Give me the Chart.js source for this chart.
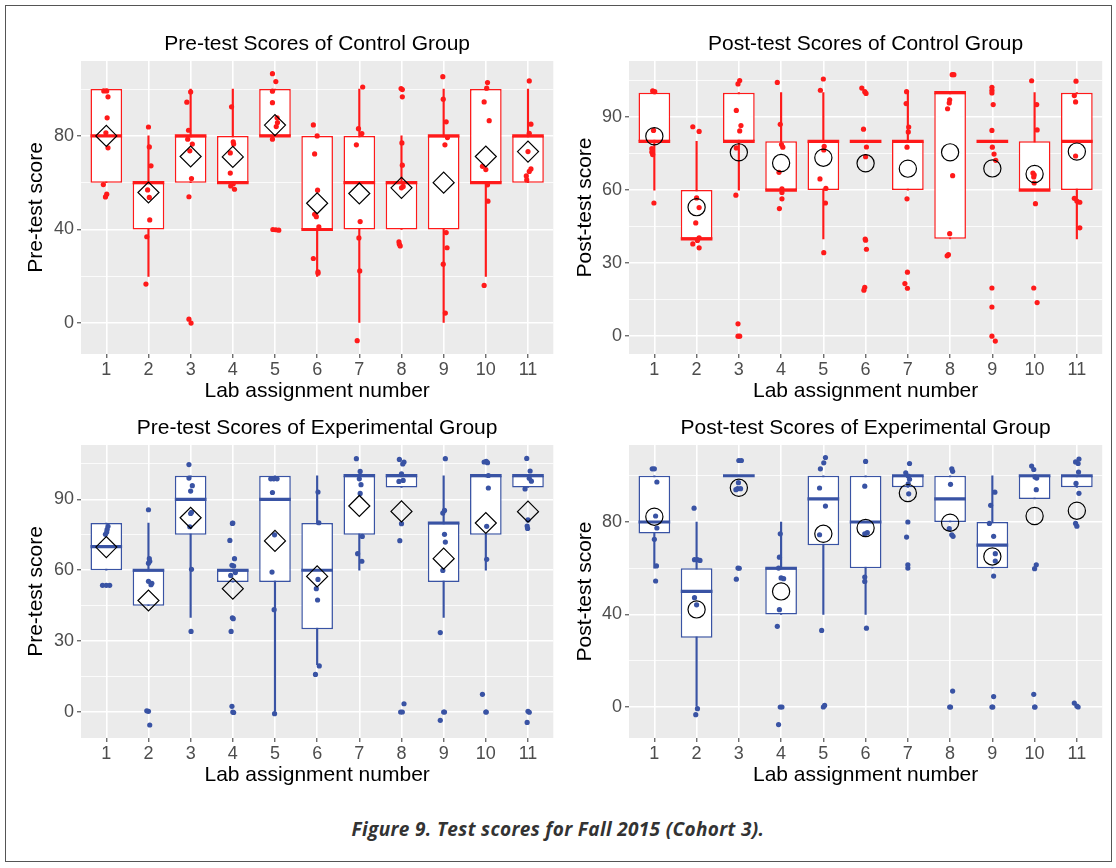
<!DOCTYPE html>
<html>
<head>
<meta charset="utf-8">
<script src="https://cdn.jsdelivr.net/npm/chart.js@4.4.1/dist/chart.umd.min.js"></script>
<style>
  body { margin: 0; background: #fff; width: 1116px; height: 868px; position: relative; overflow: hidden; }
  .frame { position: absolute; left: 5px; top: 5px; width: 1107px; height: 857px; border: 1px solid #555; box-sizing: border-box; }
  canvas { position: absolute; }
  #caption { position: absolute; left: 0; top: 816px; width: 1116px; text-align: center;
             font: italic 700 19px "Open Sans", sans-serif; letter-spacing: 0.35px; color: #333; }
</style>
</head>
<body>
<div class="frame"></div>
<canvas id="preCtrl" width="555" height="382" style="left:10px;top:24px"></canvas>
<canvas id="postCtrl" width="547" height="382" style="left:565px;top:24px"></canvas>
<canvas id="preExp" width="555" height="382" style="left:10px;top:408px"></canvas>
<canvas id="postExp" width="547" height="382" style="left:565px;top:408px"></canvas>
<div id="caption">Figure 9. Test scores for Fall 2015 (Cohort 3).</div>

<script>
const labs = [1, 2, 3, 4, 5, 6, 7, 8, 9, 10, 11];
const RED = '#ff1a1a';
const BLUE = '#3953a4';

// ---- Pre-test, control group ----
const preCtrlQ1   = [60, 40, 60, 60, 80, 40, 40, 40, 40, 60, 60];
const preCtrlMed  = [80, 60, 80, 60, 80, 40, 60, 60, 80, 60, 80];
const preCtrlQ3   = [100, 60, 80, 80, 100, 80, 80, 60, 80, 100, 80];
const preCtrlLo   = [60, 20, 60, 60, 80, 20, 0, 40, 0, 20, 60];
const preCtrlHi   = [100, 80, 100, 100, 100, 80, 100, 80, 100, 100, 100];
const preCtrlMean = [80, 55.8, 71.2, 71, 84.6, 51.2, 55.4, 57.8, 60, 71.2, 73.3];
const preCtrlPts = [
  [99.2, 99.2, 96.7, 87.7, 81.3, 74.9, 59.2, 55.1, 53.9],
  [83.8, 75.3, 67.2, 56.9, 53.7, 44.1, 36.9, 16.7],
  [98.8, 94.4, 82.4, 78.6, 76.5, 73.6, 61.8, 54, 1.7, 0],
  [92.4, 77.4, 76.5, 72.7, 64.1, 59.5, 58.6, 57.2],
  [106.6, 103.2, 99.1, 94.2, 87.7, 85.7, 84, 78.6, 40, 39.9, 39.7],
  [84.7, 80, 72.3, 56.8, 46.5, 45.5, 41.1, 27.6, 21.9, 21.3],
  [100.9, 83.1, 81, 76.2, 43.4, 36.4, 22.3, -7.5],
  [100.2, 99.8, 96.7, 77, 67.5, 58.4, 57.8, 34.7, 33.7, 33],
  [105.3, 95.7, 86, 79.3, 76.2, 38.7, 32.2, 25.2, 4.3],
  [102.8, 100.4, 94.5, 86.5, 67, 65.6, 59.1, 52.1, 16.1],
  [103.5, 85, 81.1, 73.3, 65.9, 64.8, 62.9, 61.2]
];
const preCtrlJit = [
  [-0.06, 0.01, 0.04, 0.02, -0.01, 0.04, -0.07, 0.01, -0.02],
  [0, 0.02, 0.06, -0.02, 0.02, 0.03, -0.04, -0.06],
  [0, -0.09, -0.05, -0.07, 0.04, -0.02, 0.02, -0.04, -0.04, 0.01],
  [-0.03, 0.01, 0.02, -0.06, -0.06, 0.01, -0.05, 0.04],
  [-0.06, 0.02, -0.06, -0.06, 0.05, 0.06, 0.03, -0.06, -0.05, 0.02, 0.09],
  [-0.09, 0, -0.06, 0.01, -0.06, -0.02, 0.04, -0.09, 0.02, 0.02],
  [0.08, -0.02, 0.06, -0.07, 0.02, -0.01, 0.01, -0.05],
  [-0.01, 0.02, 0.02, 0.01, 0.02, 0.04, 0, -0.06, -0.05, -0.03],
  [-0.02, -0.01, 0.06, 0.09, 0.03, 0.06, 0.08, -0.01, 0.04],
  [0.04, 0.02, -0.04, 0.08, -0.08, 0, 0.04, 0.05, -0.04],
  [0.03, 0.07, 0.03, 0, 0.07, 0.03, -0.04, -0.03]
];

// ---- Post-test, control group ----
const postCtrlQ1   = [80, 40, 80, 60, 60, 80, 60, 40, 80, 60, 60];
const postCtrlMed  = [80, 40, 80, 60, 80, 80, 80, 100, 80, 60, 80];
const postCtrlQ3   = [100, 60, 100, 80, 80, 80, 80, 100, 80, 80, 100];
const postCtrlLo   = [60, 40, 60, 60, 40, 80, 60, 40, 80, 60, 40];
const postCtrlHi   = [100, 80, 100, 100, 100, 80, 100, 100, 80, 100, 100];
const postCtrlMean = [82.1, 53, 75.5, 71.1, 73.3, 71, 68.8, 75.5, 68.9, 66.6, 75.8];
const postCtrlPts = [
  [100.7, 100.4, 84.5, 77, 75.6, 74.6, 54.7],
  [86, 84.1, 56.8, 52.8, 46.5, 40.4, 39.3, 37.9, 36.3],
  [105, 103.6, 92.7, 86.5, 84.3, 77.3, 57.9, 5.1, 0, 0],
  [104.2, 87, 78.7, 77.6, 67.3, 60.5, 59, 56.4, 52.4],
  [105.6, 101, 78, 76.5, 64.6, 60.7, 54.7, 34.3],
  [101.9, 100.4, 99.7, 85, 77.7, 73.7, 39.9, 39.4, 35.7, 20.1, 18.9],
  [100.4, 95.5, 85.9, 83.9, 77.6, 56.4, 26.3, 21.6, 19.7],
  [107.4, 107.4, 97.1, 95.8, 93.4, 65.9, 42.1, 33.5, 33],
  [102.2, 101, 99.9, 95.1, 84.5, 77.6, 74.8, 72.2, 19.8, 12, 0, -2],
  [104.9, 95.1, 84.7, 67, 66.3, 65.4, 62.9, 54.4, 19.8, 13.8],
  [104.7, 98.8, 96.2, 74, 56.6, 55.5, 55, 44.5]
];
const postCtrlJit = [
  [-0.04, 0.01, -0.02, -0.06, -0.06, -0.04, -0.01],
  [-0.09, 0.06, 0, 0.06, -0.02, 0.06, 0.02, -0.09, 0.06],
  [0.02, -0.02, -0.06, 0.05, 0.02, -0.06, -0.07, -0.02, -0.02, 0.02],
  [-0.09, -0.02, 0.01, 0.04, -0.05, 0.02, 0.02, 0.02, -0.04],
  [0, -0.07, 0.02, 0.01, -0.08, 0.06, 0.05, 0.01],
  [-0.09, -0.02, 0.01, -0.05, 0.02, 0, -0.01, 0, 0.02, -0.02, -0.04],
  [-0.03, -0.04, 0.02, 0.01, -0.02, -0.02, -0.01, -0.07, -0.01],
  [0.05, 0.09, -0.01, -0.02, -0.06, 0.06, -0.01, -0.04, -0.07],
  [-0.01, -0.01, -0.01, 0.02, -0.01, 0, 0.04, 0.08, -0.01, -0.01, -0.01, 0.07],
  [-0.07, 0.05, 0.06, -0.04, -0.01, -0.02, -0.01, 0.02, -0.02, 0.06],
  [-0.02, -0.06, -0.03, -0.03, -0.06, 0, 0.07, 0.07]
];

// ---- Pre-test, experimental group ----
const preExpQ1   = [60, 45, 75, 55, 55, 35, 75, 95, 55, 75, 95];
const preExpMed  = [70, 60, 90, 60, 90, 60, 100, 100, 80, 100, 100];
const preExpQ3   = [80, 60, 100, 60, 100, 80, 100, 100, 80, 100, 100];
const preExpLo   = [60, 45, 40, 55, 0, 20, 60, 95, 40, 60, 95];
const preExpHi   = [80, 80, 100, 60, 100, 100, 100, 100, 100, 100, 100];
const preExpMean = [69.8, 47.2, 82.2, 52.2, 72.4, 57.4, 87.2, 84.9, 64.9, 80, 84.8];
const preExpPts = [
  [78.6, 77.3, 76.2, 75.2, 53.6, 53.6, 53.6],
  [85.6, 64.9, 63.8, 63, 55.3, 53.9, 54.5, 0.3, 0.5, -5.5],
  [104.7, 99, 95.8, 93.5, 84.5, 84, 78.4, 60.4, 34.1],
  [80, 79.8, 72.6, 64.9, 62.1, 61.8, 59, 57.8, 39.9, 39.5, 34.1, 2.4, 0, -0.2],
  [98.7, 98.7, 98.7, 92.9, 75, 59.2, 43.3, -0.7],
  [93.1, 80.1, 56.1, 52.2, 47.4, 19.5, 15.9],
  [107.2, 101.8, 98.7, 96.2, 92.5, 74.3, 67, 63.8],
  [106.9, 105.8, 105, 100.8, 97.6, 98, 79.7, 72.5, 3.5, 0, 0],
  [107.2, 85.3, 84.2, 75.2, 71.9, 59.9, 33.6, 0, 0, -3.5],
  [105.8, 105.5, 106.1, 100.1, 94.8, 78.6, 64.6, 7.5, 0, 0],
  [107.3, 102, 98.9, 97.7, 94.4, 81.3, 78.7, 77.7, 0.3, -0.1, -4.4]
];
const preExpJit = [
  [0.04, 0.02, 0.01, -0.02, -0.09, 0, 0.08],
  [0, 0.02, 0.03, 0, 0, 0.06, 0.08, 0, -0.04, 0.03],
  [-0.04, -0.04, 0.04, 0, 0.02, 0, -0.02, 0.02, 0.01],
  [0, -0.01, -0.07, 0.04, -0.02, 0.02, 0.06, -0.05, -0.01, 0.01, -0.04, -0.02, 0, 0.02],
  [-0.1, -0.03, 0.05, -0.06, -0.01, -0.07, -0.02, -0.01],
  [0.02, 0.04, 0.02, -0.02, 0.01, 0.05, -0.04],
  [-0.07, 0.02, 0, 0.04, 0.02, 0.07, -0.04, 0.06],
  [-0.05, 0.06, 0.03, 0, -0.06, 0.04, 0, -0.04, 0.06, -0.02, 0.02],
  [0.04, 0.02, -0.02, 0.02, 0.04, -0.02, -0.08, 0, 0.02, -0.08],
  [-0.04, 0.04, 0.01, 0.06, 0.06, 0.02, 0.02, -0.08, 0, 0.01],
  [-0.03, 0.05, 0.03, 0.08, -0.07, 0, -0.02, -0.01, 0, 0.03, -0.02]
];

// ---- Post-test, experimental group ----
const postExpQ1   = [75, 30, 100, 40, 70, 60, 95, 80, 60, 90, 95];
const postExpMed  = [80, 50, 100, 60, 90, 80, 100, 90, 70, 100, 100];
const postExpQ3   = [100, 60, 100, 60, 100, 100, 100, 100, 80, 100, 100];
const postExpLo   = [60, 0, 100, 40, 40, 40, 95, 80, 60, 90, 95];
const postExpHi   = [100, 80, 100, 80, 100, 100, 100, 100, 100, 100, 100];
const postExpMean = [82.3, 42.2, 94.8, 50, 74.9, 77.4, 92.5, 79.7, 65.1, 82.6, 84.9];
const postExpPts = [
  [103, 103, 97.3, 82.6, 77.4, 72.5, 61, 54.5],
  [86, 63.7, 63.7, 63.4, 47.3, 44.2, -0.7, -3.3],
  [106.6, 106.6, 97, 94.4, 94, 94.4, 60.1, 60, 55.3],
  [74.9, 64.8, 60.1, 55.8, 55.5, 42.1, 34.9, 0, 0, -7.6],
  [107.9, 105.6, 103, 94.7, 86.9, 74.5, 33.1, 0, 0.7],
  [106.2, 95.5, 75.4, 74.9, 56.2, 54.3, 34.1],
  [105.3, 101.3, 99.9, 98.5, 96.5, 92.2, 80, 73.5, 61.5, 60.1],
  [103, 101.9, 96.3, 77.1, 74.5, 73.8, 6.9, 0, 0],
  [92.9, 87.2, 79.4, 73.8, 66.3, 63.1, 56.6, 4.5, 0, 0],
  [104.2, 102.7, 99, 99.5, 94, 61.5, 59.8, 5.5, 0, 0],
  [107.2, 106, 105.3, 101.6, 96.7, 92.4, 79.4, 78.2, 1.7, 0.4, 0]
];
const postExpJit = [
  [-0.05, 0, 0.06, 0.03, 0.06, 0, 0.05, 0.03],
  [-0.06, -0.05, 0.02, 0.08, -0.05, 0, 0.02, -0.02],
  [0, 0.06, -0.01, -0.03, -0.07, 0.04, -0.02, 0.01, -0.06],
  [-0.02, -0.04, -0.06, 0, 0.06, -0.04, -0.09, -0.02, 0.02, -0.06],
  [0.05, 0.01, -0.07, -0.09, 0.05, -0.09, -0.04, 0, 0.03],
  [0, -0.02, 0.04, -0.02, -0.02, -0.02, 0.02],
  [0.04, -0.05, 0.01, 0.04, 0.01, 0.02, 0, -0.03, 0, 0],
  [0.04, 0.06, 0.01, -0.02, 0.04, 0.07, 0.06, -0.01, 0.01],
  [0.06, -0.04, -0.07, 0.03, 0.07, 0.07, 0.03, 0.03, -0.01, 0.01],
  [-0.07, -0.02, 0.05, 0.01, 0.04, 0.04, 0, -0.02, 0, 0.01],
  [0.05, -0.03, 0.03, 0.04, -0.02, 0.05, -0.03, 0, -0.06, 0, 0.03]
];

// y axis ranges and tick values
const yRangePreCtrl  = [-13.2, 112];
const yRangePostCtrl = [-7.3, 113];
const yRangePreExp   = [-11, 113];
const yRangePostExp  = [-13.4, 113.3];
const ticks40 = [0, 40, 80];
const minor40 = [20, 60, 100];
const ticks30 = [0, 30, 60, 90];
const minor30 = [15, 45, 75, 105];

const BOX_W = 0.75;

Chart.defaults.font.family = '"Liberation Sans", Arial, sans-serif';
Chart.defaults.color = '#4d4d4d';

const panelBg = {
  id: 'panelBg',
  beforeDraw(chart) {
    const { ctx, chartArea: a } = chart;
    ctx.save();
    ctx.fillStyle = '#ebebeb';
    ctx.fillRect(a.left, a.top, a.width, a.height);
    ctx.restore();
  }
};

function makeTicks(list) {
  return list.map(v => ({ value: v }));
}

function halfBox(c) {
  const s = c.chart.scales.x;
  return s.getPixelForValue(1 + BOX_W / 2) - s.getPixelForValue(1);
}

function buildChart(id, p) {
  const pts = [];
  p.pts.forEach((arr, i) => arr.forEach((v, j) => pts.push({ x: labs[i] + p.jit[i][j], y: v })));
  const mainTicks = p.major.concat(p.minor).sort((a, b) => a - b);

  return new Chart(document.getElementById(id), {
    type: 'scatter',
    data: {
      datasets: [
        { type: 'bar', order: 5, grouped: false, barThickness: 1.5,
          data: labs.map((l, i) => ({ x: l, y: [p.lo[i], p.hi[i]] })),
          backgroundColor: p.color, borderWidth: 0 },
        { type: 'bar', order: 4, grouped: false, categoryPercentage: 1, barPercentage: BOX_W,
          data: labs.map((l, i) => ({ x: l, y: [p.q1[i], p.q3[i]] })),
          backgroundColor: '#ffffff', borderColor: p.color, borderWidth: 1.5, borderSkipped: false },
        { order: 3, data: labs.map((l, i) => ({ x: l, y: p.med[i] })),
          pointStyle: 'line', pointRadius: halfBox, pointBorderWidth: 3.2,
          pointBorderColor: p.color, pointBackgroundColor: p.color },
        { order: 2, data: pts, pointRadius: 2.6, pointBorderWidth: 0,
          pointBackgroundColor: p.color, pointBorderColor: p.color },
        { order: 1, data: labs.map((l, i) => ({ x: l, y: p.mean[i] })),
          pointStyle: p.meanStyle, pointRadius: p.meanStyle === 'rectRot' ? 10.5 : 8.6,
          pointBorderWidth: 1.2, pointBorderColor: '#000', pointBackgroundColor: 'rgba(0,0,0,0)' }
      ]
    },
    options: {
      responsive: false,
      animation: false,
      events: [],
      layout: { padding: { left: 0, right: p.padRight, top: 0, bottom: 0 } },
      plugins: {
        legend: { display: false },
        tooltip: { enabled: false },
        title: { display: true, text: p.title, fullSize: false, color: '#000',
                 font: { size: 21, weight: 'normal' }, padding: { top: 7.4, bottom: 4.4 } }
      },
      scales: {
        x: {
          type: 'linear', min: 0.4, max: 11.6, offset: false,
          afterBuildTicks: s => { s.ticks = makeTicks(labs); },
          afterFit: s => { s.height = 52; },
          border: { display: false },
          grid: { offset: false, color: '#ffffff', lineWidth: 1.6, tickLength: 4, tickWidth: 1,
                  tickColor: '#333333' },
          ticks: { autoSkip: false, maxRotation: 0, padding: 1, color: '#4d4d4d', font: { size: 18 },
                   callback: v => String(v) },
          title: { display: true, text: 'Lab assignment number', color: '#000',
                   font: { size: 21 }, padding: { top: 0, bottom: 2.4 } }
        },
        y: {
          min: p.range[0], max: p.range[1],
          afterBuildTicks: s => { s.ticks = makeTicks(mainTicks); },
          afterFit: s => { s.width = p.axisW; },
          border: { display: false },
          grid: {
            color: '#ffffff',
            lineWidth: c => (p.major.includes(c.tick.value) ? 1.6 : 0.8),
            tickLength: 4,
            tickWidth: 1,
            tickColor: c => (p.major.includes(c.tick.value) ? '#333333' : 'rgba(0,0,0,0)')
          },
          ticks: { autoSkip: false, padding: 3, color: '#4d4d4d', font: { size: 18 },
                   callback: v => (p.major.includes(v) ? String(v) : '') },
          title: { display: true, text: p.yTitle, color: '#000', font: { size: 21 },
                   padding: { top: p.yTitlePad, bottom: 0 } }
        }
      }
    },
    plugins: [panelBg]
  });
}

buildChart('preCtrl', {
  title: 'Pre-test Scores of Control Group', yTitle: 'Pre-test score', color: RED, meanStyle: 'rectRot',
  q1: preCtrlQ1, med: preCtrlMed, q3: preCtrlQ3, lo: preCtrlLo, hi: preCtrlHi, mean: preCtrlMean,
  pts: preCtrlPts, jit: preCtrlJit, range: yRangePreCtrl, major: ticks40, minor: minor40,
  axisW: 71, padRight: 8, yTitlePad: 13.4
});
buildChart('postCtrl', {
  title: 'Post-test Scores of Control Group', yTitle: 'Post-test score', color: RED, meanStyle: 'circle',
  q1: postCtrlQ1, med: postCtrlMed, q3: postCtrlQ3, lo: postCtrlLo, hi: postCtrlHi, mean: postCtrlMean,
  pts: postCtrlPts, jit: postCtrlJit, range: yRangePostCtrl, major: ticks30, minor: minor30,
  axisW: 64, padRight: 7, yTitlePad: 7.4
});
buildChart('preExp', {
  title: 'Pre-test Scores of Experimental Group', yTitle: 'Pre-test score', color: BLUE, meanStyle: 'rectRot',
  q1: preExpQ1, med: preExpMed, q3: preExpQ3, lo: preExpLo, hi: preExpHi, mean: preExpMean,
  pts: preExpPts, jit: preExpJit, range: yRangePreExp, major: ticks30, minor: minor30,
  axisW: 71, padRight: 8, yTitlePad: 13.4
});
buildChart('postExp', {
  title: 'Post-test Scores of Experimental Group', yTitle: 'Post-test score', color: BLUE, meanStyle: 'circle',
  q1: postExpQ1, med: postExpMed, q3: postExpQ3, lo: postExpLo, hi: postExpHi, mean: postExpMean,
  pts: postExpPts, jit: postExpJit, range: yRangePostExp, major: ticks40, minor: minor40,
  axisW: 64, padRight: 7, yTitlePad: 7.4
});
</script>
</body>
</html>
